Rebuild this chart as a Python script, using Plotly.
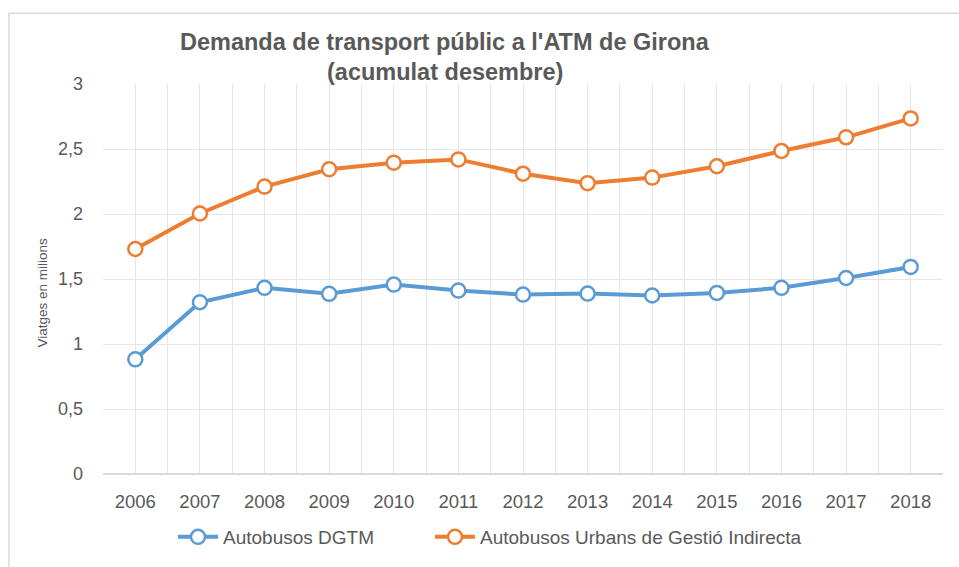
import plotly.graph_objects as go

years = [2006, 2007, 2008, 2009, 2010, 2011, 2012, 2013, 2014, 2015, 2016, 2017, 2018]
dgtm = [0.882, 1.321, 1.432, 1.386, 1.457, 1.411, 1.380, 1.388, 1.373, 1.393, 1.432, 1.508, 1.593]
urbans = [1.731, 2.004, 2.211, 2.344, 2.395, 2.420, 2.310, 2.237, 2.280, 2.367, 2.485, 2.590, 2.735]
series_names = ["Autobusos DGTM", "Autobusos Urbans de Gestió Indirecta"]
colors = ["#5B9BD5", "#ED7D31"]
title_lines = ["Demanda de transport públic a l'ATM de Girona", "(acumulat desembre)"]
y_title = "Viatges en milions"

FONT = "Liberation Sans, Arial, sans-serif"
GREY = "#595959"
GRID = "#E6E6E6"

fig = go.Figure()
for name, vals, col, lg in zip(series_names, [dgtm, urbans], colors, ["legend", "legend2"]):
    fig.add_trace(go.Scatter(
        x=years, y=vals, name=name, mode="lines+markers", legend=lg,
        line=dict(color=col, width=4),
        marker=dict(symbol="circle", size=14, color="white",
                    line=dict(color=col, width=2.5)),
    ))

W, H = 959, 567
L, R, T, B = 103, 16, 84, 92
pw, ph = W - L - R, H - T - B

def px(x):
    return (x - L) / pw

def py(y):
    return (H - B - y) / ph

legend_common = dict(orientation="h", xanchor="left", y=py(537), yanchor="middle",
                     font=dict(size=19, color=GREY, family=FONT), itemwidth=40,
                     bgcolor="rgba(0,0,0,0)")

fig.update_layout(
    width=W, height=H,
    margin=dict(l=L, r=R, t=T, b=B),
    paper_bgcolor="white", plot_bgcolor="white",
    separators=", ",
    font=dict(family=FONT, color=GREY, size=18),
    showlegend=True,
    legend=dict(x=px(173), **legend_common),
    legend2=dict(x=px(430), **legend_common),
    xaxis=dict(
        range=[2005.5, 2018.5], tickvals=years, ticktext=[str(y) for y in years],
        showgrid=True, gridcolor=GRID, gridwidth=1.3,
        minor=dict(tick0=2005.5, dtick=1, showgrid=True, gridcolor=GRID, gridwidth=1.3),
        showline=False, zeroline=False, ticks="", ticklabelstandoff=14,
        tickfont=dict(size=18.5, color=GREY, family=FONT),
    ),
    yaxis=dict(
        range=[0, 3], dtick=0.5, showgrid=True, gridcolor=GRID, gridwidth=1.3,
        zeroline=True, zerolinecolor="#D9D9D9", zerolinewidth=2, showline=False,
        ticks="", ticklabelstandoff=19,
        tickfont=dict(size=18, color=GREY, family=FONT),
    ),
    shapes=[dict(type="rect", xref="paper", yref="paper",
                 x0=px(9), x1=px(962), y0=py(572), y1=py(13),
                 line=dict(color="#D9D9D9", width=1.5), fillcolor="rgba(0,0,0,0)",
                 layer="below")],
    annotations=[
        dict(text="<b>" + title_lines[0] + "</b>", xref="paper", yref="paper",
             x=px(445), y=py(42), xanchor="center", yanchor="middle", showarrow=False,
             font=dict(size=23.5, color=GREY, family=FONT)),
        dict(text="<b>" + title_lines[1] + "</b>", xref="paper", yref="paper",
             x=px(445), y=py(72), xanchor="center", yanchor="middle", showarrow=False,
             font=dict(size=23.5, color=GREY, family=FONT)),
        dict(text=y_title, xref="paper", yref="paper", x=px(42), y=py(293),
             xanchor="center", yanchor="middle", textangle=-90, showarrow=False,
             font=dict(size=13.5, color=GREY, family=FONT)),
    ],
)

fig.write_html("out.html", config={"displayModeBar": False},
               post_script="document.body.style.margin='0';document.body.style.padding='0';")
